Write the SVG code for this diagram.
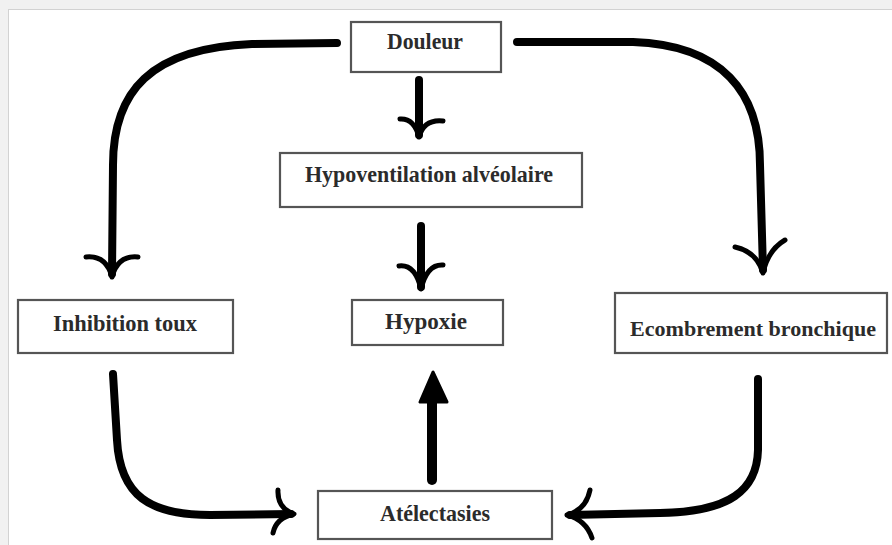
<svg xmlns="http://www.w3.org/2000/svg" width="892" height="545" viewBox="0 0 892 545">
<style>
.box{fill:#ffffff;stroke:#555555;stroke-width:2.2}
.lbl{font-family:"Liberation Serif","Times New Roman",serif;font-weight:bold;font-size:24px;fill:#2b2b2b}
.con{fill:none;stroke:#000000;stroke-width:8;stroke-linecap:round;stroke-linejoin:round}
.head{fill:none;stroke:#000000;stroke-width:5;stroke-linecap:round;stroke-linejoin:round}
</style>
<rect x="0" y="0" width="892" height="545" fill="#f1f1f1"/>
<rect x="8.5" y="9.5" width="890" height="540" fill="#ffffff" stroke="#d2d2d2" stroke-width="1"/>

<g id="connectors">
  <!-- Douleur -> Hypoventilation -->
  <path class="con" d="M419 80 L419 135"/>
  <path class="head" d="M400 119 Q414 118 419 137 Q424 119 443 121"/>
  <!-- Hypoventilation -> Hypoxie -->
  <path class="con" d="M421 226 L421 287"/>
  <path class="head" d="M399 266 Q415 264 421 289 Q427 264 443 265"/>
  <!-- Atelectasies -> Hypoxie -->
  <path class="con" d="M432 480 L432 398" style="stroke-width:10"/>
  <polygon points="433,372 420,402 447,402" fill="#000000" stroke="#000000" stroke-width="3" stroke-linejoin="round"/>
  <!-- Douleur -> Inhibition toux -->
  <path class="con" d="M337 43 L252 44 C150 48 113 92 113 165 L112 274"/>
  <path class="head" d="M86 257 Q106 255 112 277 Q118 255 138 257"/>
  <!-- Douleur -> Ecombrement -->
  <path class="con" d="M517 42 L633 42 C722 45 760 92 760 165 L763 270"/>
  <path class="head" d="M735 247 Q757 252 763 273 Q768 250 785 240"/>
  <!-- Inhibition toux -> Atelectasies -->
  <path class="con" d="M113 374 L117 440 C120 496 150 515 210 515 L291 514"/>
  <path class="head" d="M278 490 Q277 508 294 514 Q276 518 273 533"/>
  <!-- Ecombrement -> Atelectasies -->
  <path class="con" d="M758 379 L758 450 C757 490 730 512 660 513 L570 515"/>
  <path class="head" d="M590 490 Q586 510 567 515 Q586 520 592 538"/>
</g>

<g id="douleur">
  <rect class="box" x="351" y="22" width="150" height="50"/>
  <text class="lbl" x="387" y="49" textLength="76" lengthAdjust="spacingAndGlyphs">Douleur</text>
</g>
<g id="hypoventilation">
  <rect class="box" x="280" y="153" width="302" height="54"/>
  <text class="lbl" x="305" y="182" textLength="248" lengthAdjust="spacingAndGlyphs">Hypoventilation alvéolaire</text>
</g>
<g id="inhibition">
  <rect class="box" x="18" y="300" width="215" height="53"/>
  <text class="lbl" x="53" y="331" textLength="144" lengthAdjust="spacingAndGlyphs">Inhibition toux</text>
</g>
<g id="hypoxie">
  <rect class="box" x="352" y="300" width="151" height="45"/>
  <text class="lbl" x="385" y="329" textLength="82" lengthAdjust="spacingAndGlyphs">Hypoxie</text>
</g>
<g id="ecombrement">
  <rect class="box" x="615" y="293" width="272" height="60"/>
  <text class="lbl" x="630" y="336" style="font-size:22px" textLength="246" lengthAdjust="spacingAndGlyphs">Ecombrement bronchique</text>
</g>
<g id="atelectasies">
  <rect class="box" x="318" y="491" width="234" height="48"/>
  <text class="lbl" x="380" y="521" textLength="110" lengthAdjust="spacingAndGlyphs">Atélectasies</text>
</g>
</svg>
